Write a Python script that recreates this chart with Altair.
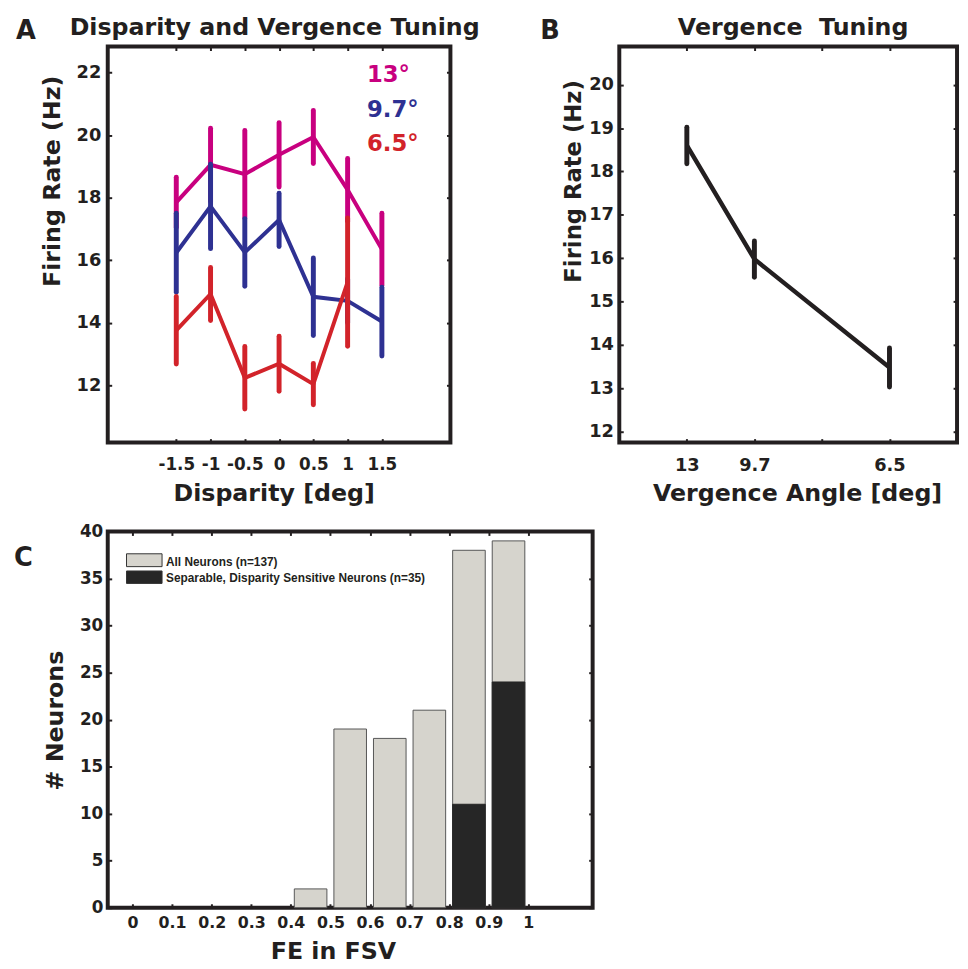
import altair as alt
import pandas as pd

# ---------------- data ----------------
# Panel A: disparity tuning at three vergence angles
disparity = [-1.5, -1.0, -0.5, 0.0, 0.5, 1.0, 1.5]
rate_13 = [17.85, 19.05, 18.75, 19.37, 19.94, 18.25, 16.35]
err_13 = [0.80, 1.17, 1.40, 1.03, 0.85, 1.00, 1.15]
rate_97 = [16.24, 17.72, 16.25, 17.29, 14.83, 14.70, 14.04]
err_97 = [1.26, 1.35, 1.08, 0.85, 1.24, 0.70, 1.10]
rate_65 = [13.76, 14.92, 12.24, 12.69, 12.04, 15.30]
err_65 = [1.08, 0.85, 1.00, 0.88, 0.66, 2.05]
series_names = ["13°", "9.7°", "6.5°"]
series_colors = ["#C8007F", "#2E3192", "#D2232A"]
a_yticks = [12, 14, 16, 18, 20, 22]

# Panel B: vergence tuning
verg_pos = [1, 2, 4]
verg_labels = ["13", "9.7", "6.5"]
verg_rate = [18.60, 15.98, 13.48]
verg_err = [0.42, 0.42, 0.45]
b_xticks = [1, 2, 3, 4]
b_yticks = [12, 13, 14, 15, 16, 17, 18, 19, 20]

# Panel C: histogram of FE in FSV
fe_centers = [0.45, 0.55, 0.65, 0.75, 0.85, 0.95]
all_counts = [2, 19, 18, 21, 38, 39]
sep_counts = [0, 0, 0, 0, 11, 24]
legend_labels = ["All Neurons (n=137)", "Separable, Disparity Sensitive Neurons (n=35)"]
legend_colors = ["#D6D4CD", "#262626"]
c_xticks = [0, 0.1, 0.2, 0.3, 0.4, 0.5, 0.6, 0.7, 0.8, 0.9, 1]
c_yticks = [0, 5, 10, 15, 20, 25, 30, 35, 40]

FONT = "DejaVu Sans"
INK = "#231F20"
NUM = "'' + datum.value"


def ax(orient, values, size=18, pad=8, title=None, tx=None, ty=None, angle=0,
       tsize=24, labels=True, expr=NUM):
    kw = dict(orient=orient, values=values, offset=-4, tickSize=4, tickWidth=2,
              tickColor=INK, domain=False, grid=False, labels=labels,
              labelFontSize=size, labelPadding=pad, labelOverlap=False,
              labelFlush=False, labelBound=False, labelExpr=expr, title=title)
    if title is not None:
        kw.update(titleX=tx, titleY=ty, titleAngle=angle, titleBaseline="middle",
                  titleAlign="center", titleFontSize=tsize)
    return alt.Axis(**kw)


def label(text, x, y, size=24, color=INK, align="left", baseline="top", font=FONT):
    return alt.Chart(pd.DataFrame({"t": [text]})).mark_text(
        font=font, fontWeight="bold", fontSize=size, color=color,
        align=align, baseline=baseline
    ).encode(text="t:N", x=alt.value(x), y=alt.value(y))


# ---------------- panel A ----------------
WA, HA = 347, 401
xA = alt.Scale(domain=[-2.5, 2.5], nice=False, zero=False)
yA = alt.Scale(domain=[10.17, 22.83], nice=False, zero=False)

axA_x = ax("bottom", disparity, size=17, pad=14, title="Disparity [deg]", tx=168, ty=56)
axA_y = ax("left", a_yticks, size=18, pad=7, title="Firing Rate (Hz)", tx=-60, ty=136,
           angle=270, tsize=24)
axA_xt = ax("top", disparity, labels=False)
axA_yr = ax("right", a_yticks, labels=False)

layersA = []
series = [(rate_13, err_13), (rate_97, err_97), (rate_65, err_65)]
for i, ((r, e), c) in enumerate(zip(series, series_colors)):
    d = pd.DataFrame({"d": disparity[:len(r)], "r": r, "e": e})
    d["lo"] = d["r"] - d["e"]
    d["hi"] = d["r"] + d["e"]
    line = alt.Chart(d).mark_line(color=c, strokeWidth=4).encode(
        x=alt.X("d:Q", scale=xA, axis=axA_x if i == 0 else None),
        y=alt.Y("r:Q", scale=yA, axis=axA_y if i == 0 else None),
    )
    bars = alt.Chart(d).mark_rule(color=c, strokeWidth=5, strokeCap="round").encode(
        x=alt.X("d:Q", scale=xA, axis=axA_xt if i == 0 else None),
        y=alt.Y("lo:Q", scale=yA, axis=axA_yr if i == 0 else None),
        y2="hi:Q",
    )
    layersA += [line, bars]

legA_y = [36, 71.3, 105.3]
for name, c, yy in zip(series_names, series_colors, legA_y):
    layersA.append(label(name, 262.5, yy, size=23, color=c, baseline="alphabetic"))
layersA.append(label("Disparity and Vergence Tuning", 169, -31, size=24, align="center"))
layersA.append(label("A", -93, -29, size=26))

chartA = alt.layer(*layersA).resolve_axis(x="independent", y="independent").properties(
    width=WA, height=HA)

# ---------------- panel B ----------------
WB, HB = 342, 401
xB = alt.Scale(domain=[0, 5], nice=False, zero=False)
yB = alt.Scale(domain=[11.75, 20.88], nice=False, zero=False)
b_expr = " : ".join(f"datum.value == {p} ? '{l}'" for p, l in zip(verg_pos, verg_labels)) + " : ''"

dB = pd.DataFrame({"p": verg_pos, "r": verg_rate, "e": verg_err})
dB["lo"] = dB["r"] - dB["e"]
dB["hi"] = dB["r"] + dB["e"]

lineB = alt.Chart(dB).mark_line(color=INK, strokeWidth=4.5).encode(
    x=alt.X("p:Q", scale=xB, axis=ax("bottom", b_xticks, size=18, pad=14,
                                       title="Vergence Angle [deg]", tx=180, ty=56,
                                       expr=b_expr)),
    y=alt.Y("r:Q", scale=yB, axis=ax("left", b_yticks, size=18, pad=6,
                                       title="Firing Rate (Hz)", tx=-50.5, ty=136,
                                       angle=270, tsize=23)),
)
barsB = alt.Chart(dB).mark_rule(color=INK, strokeWidth=5, strokeCap="round").encode(
    x=alt.X("p:Q", scale=xB, axis=ax("top", b_xticks, labels=False)),
    y=alt.Y("lo:Q", scale=yB, axis=ax("right", b_yticks, labels=False)),
    y2="hi:Q",
)
chartB = alt.layer(
    lineB, barsB,
    label("Vergence\u00a0 Tuning", 176, -31, size=24, align="center"),
    label("B", -80, -29, size=26),
).resolve_axis(x="independent", y="independent").properties(width=WB, height=HB)

# ---------------- panel C ----------------
WC, HC = 491, 381
xC = alt.Scale(domain=[-0.05, 1.15], nice=False, zero=False)
yC = alt.Scale(domain=[0, 40], nice=False, zero=False)

dAll = pd.DataFrame({"x": fe_centers, "n": all_counts})
dSep = pd.DataFrame({"x": fe_centers, "n": sep_counts})
dSep = dSep[dSep["n"] > 0]

barsAll = alt.Chart(dAll).mark_bar(size=33, color=legend_colors[0], stroke="#555555",
                                   strokeWidth=1).encode(
    x=alt.X("x:Q", scale=xC, axis=ax("bottom", c_xticks, size=16, pad=7,
                                       title="FE in FSV", tx=228, ty=48)),
    y=alt.Y("n:Q", scale=yC, axis=ax("left", c_yticks, size=17, pad=5,
                                       title="# Neurons", tx=-56.5, ty=191,
                                       angle=270, tsize=24)),
)
barsSep = alt.Chart(dSep).mark_bar(size=33, color=legend_colors[1], stroke=legend_colors[1],
                                   strokeWidth=1).encode(
    x=alt.X("x:Q", scale=xC, axis=ax("top", c_xticks, labels=False)),
    y=alt.Y("n:Q", scale=yC, axis=ax("right", c_yticks, labels=False)),
)


def swatch(color, y1, y2):
    return alt.Chart(pd.DataFrame({"k": [0]})).mark_rect(
        color=color, stroke="#333333", strokeWidth=1
    ).encode(x=alt.value(19), x2=alt.value(55), y=alt.value(y1), y2=alt.value(y2))


LEGFONT = "Liberation Sans Narrow, Liberation Sans"
chartC = alt.layer(
    barsAll, barsSep,
    swatch(legend_colors[0], 22.6, 35.6),
    swatch(legend_colors[1], 40, 52.6),
    label(legend_labels[0], 59, 35, size=12, baseline="alphabetic", font=LEGFONT),
    label(legend_labels[1], 59, 51.6, size=12, baseline="alphabetic", font=LEGFONT),
    label("C", -95, 14, size=26),
).resolve_axis(x="independent", y="independent").properties(width=WC, height=HC)

# ---------------- assemble ----------------
top = alt.hconcat(chartA, chartB, spacing=171, bounds="flush")
chart = alt.vconcat(top, chartC, spacing=13).properties(
    padding={"left": 4, "top": 0, "right": 0, "bottom": 0},
    background="white",
).configure(font=FONT).configure_view(
    stroke=INK, strokeWidth=4, fill=None
).configure_axis(
    labelFont=FONT, titleFont=FONT, labelFontWeight="bold", titleFontWeight="bold",
    labelColor=INK, titleColor=INK,
)

chart.save("out.html", embed_options={"renderer": "svg", "actions": False})
